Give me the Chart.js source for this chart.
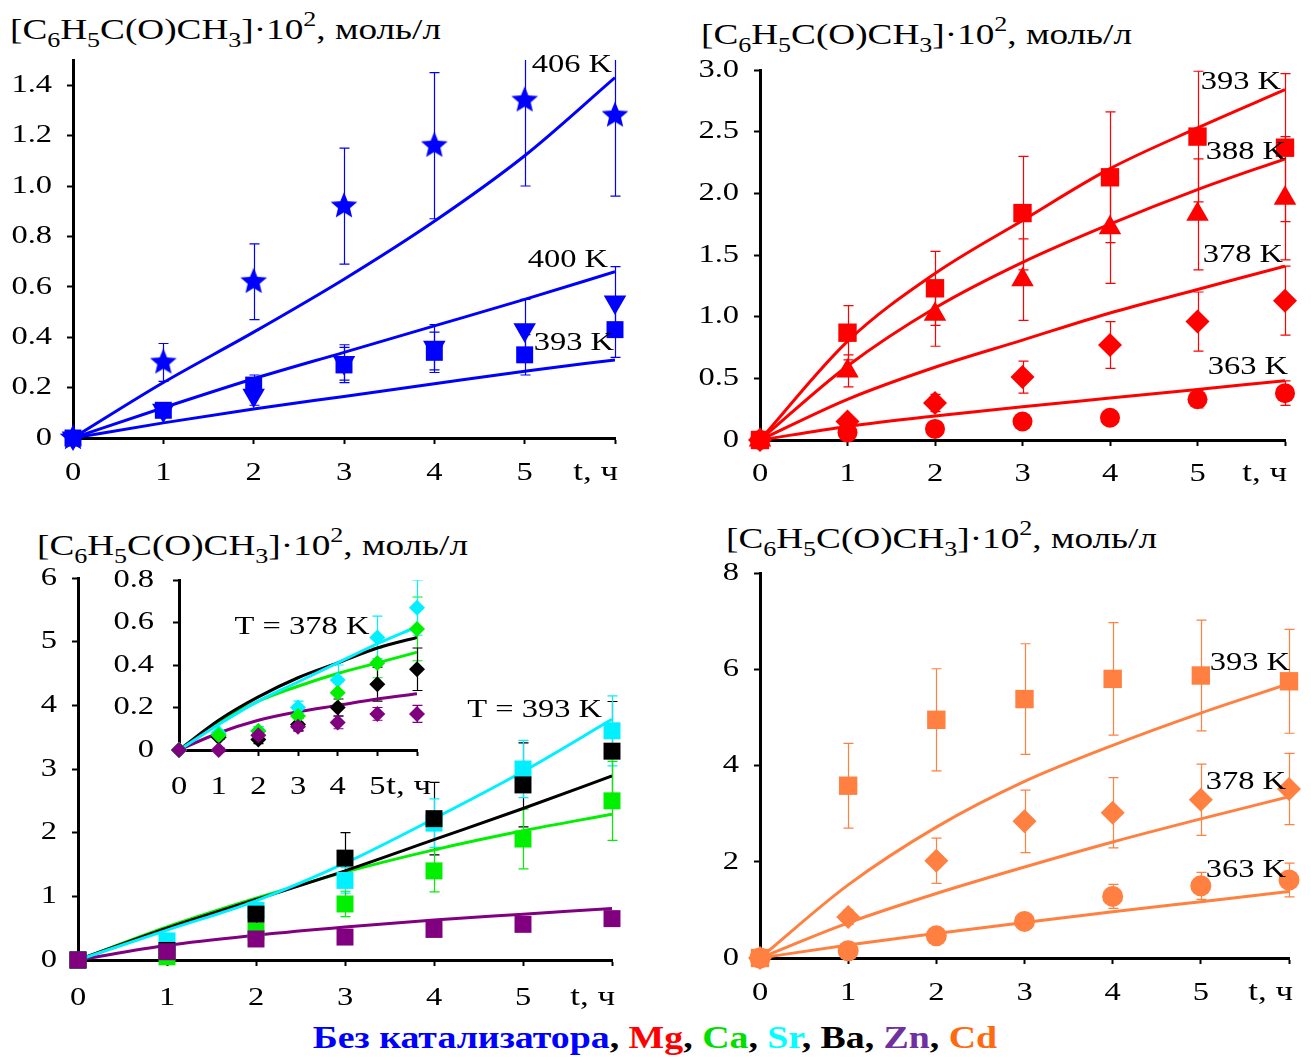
<!DOCTYPE html>
<html lang="ru">
<head>
<meta charset="UTF-8">
<title>Накопление ацетофенона</title>
<script src="https://cdn.jsdelivr.net/npm/chart.js@4.4.0/dist/chart.umd.min.js"></script>
<style>
  body { margin: 0; background: #fff; width: 1311px; height: 1061px; position: relative; overflow: hidden;
         font-family: 'Liberation Serif', 'Times New Roman', serif; }
  canvas { position: absolute; }
  .ytitle { position: absolute; font-size: 30px; white-space: nowrap; line-height: 1;
            transform: scaleX(1.24); transform-origin: 0 0; }
  .ytitle sub { font-size: 21px; vertical-align: -8px; line-height: 0; }
  .ytitle sup { font-size: 21px; vertical-align: 13px; line-height: 0; }
  #legend { position: absolute; left: 0; width: 1311px; top: 1022px; text-align: center;
            font-weight: bold; font-size: 31px; line-height: 1;
            transform: scaleX(1.22); transform-origin: 658px 0; }
</style>
</head>
<body>
<div class="ytitle" style="left:10px;top:14px">[C<sub>6</sub>H<sub>5</sub>C(O)CH<sub>3</sub>]·10<sup>2</sup>, моль/л</div>
<div class="ytitle" style="left:701px;top:19px">[C<sub>6</sub>H<sub>5</sub>C(O)CH<sub>3</sub>]·10<sup>2</sup>, моль/л</div>
<div class="ytitle" style="left:37px;top:530px">[C<sub>6</sub>H<sub>5</sub>C(O)CH<sub>3</sub>]·10<sup>2</sup>, моль/л</div>
<div class="ytitle" style="left:726px;top:523px">[C<sub>6</sub>H<sub>5</sub>C(O)CH<sub>3</sub>]·10<sup>2</sup>, моль/л</div>

<canvas id="pNone"></canvas>
<canvas id="pMg"></canvas>
<canvas id="pAlk"></canvas>
<canvas id="pInset"></canvas>
<canvas id="pCd"></canvas>

<div id="legend"></div>

<script>
// ---- data (t, h; concentration ·10^2, mol/l) ----
const hours = [0, 1, 2, 3, 4, 5, 6];

// no catalyst
const none406 = [0, 0.30, 0.62, 0.92, 1.16, 1.34, 1.28];
const none406Err = [0, 0.075, 0.15, 0.23, 0.29, 0.34, 0.32];
const none400 = [0, 0.11, 0.17, 0.30, 0.36, 0.43, 0.54];
const none400Err = [0, 0.02, 0.04, 0.07, 0.09, 0.12, 0.14];
const none393 = [0, 0.11, 0.21, 0.29, 0.34, 0.33, 0.43];
const none393Err = [0, 0.02, 0.04, 0.07, 0.08, 0.08, 0.11];
const noneFit406 = [0, 0.22, 0.42, 0.63, 0.86, 1.12, 1.43];
const noneFit400 = [0, 0.12, 0.235, 0.34, 0.445, 0.55, 0.66];
const noneFit393 = [0, 0.06, 0.115, 0.165, 0.215, 0.265, 0.31];

// Mg
const mg393 = [0, 0.87, 1.23, 1.84, 2.13, 2.46, 2.37];
const mg393Err = [0, 0.22, 0.30, 0.46, 0.53, 0.53, 0.60];
const mg388 = [0, 0.56, 1.02, 1.30, 1.72, 1.83, 1.96];
const mg388Err = [0, 0.13, 0.26, 0.33, 0.45, 0.45, 0.50];
const mg378 = [0, 0.15, 0.30, 0.51, 0.77, 0.96, 1.13];
const mg378Err = [0, 0.04, 0.07, 0.13, 0.19, 0.24, 0.28];
const mg363 = [0, 0.06, 0.09, 0.15, 0.18, 0.33, 0.38];
const mg363Err = [0, 0.01, 0.02, 0.03, 0.04, 0.07, 0.10];
const mgFit393 = [0, 0.80, 1.35, 1.78, 2.20, 2.53, 2.84];
const mgFit388 = [0, 0.60, 1.07, 1.44, 1.75, 2.03, 2.28];
const mgFit378 = [0, 0.33, 0.59, 0.81, 1.03, 1.22, 1.41];
const mgFit363 = [0, 0.11, 0.195, 0.27, 0.34, 0.41, 0.48];

// Ca, Sr, Ba, Zn at 393 K
const ca393 = [0, 0.05, 0.45, 0.88, 1.40, 1.90, 2.50];
const ca393Err = [0, 0.02, 0.08, 0.20, 0.33, 0.47, 0.62];
const sr393 = [0, 0.30, 0.78, 1.25, 2.15, 3.00, 3.60];
const sr393Err = [0, 0.06, 0.10, 0.20, 0.38, 0.45, 0.55];
const ba393 = [0, 0.15, 0.72, 1.60, 2.22, 2.75, 3.28];
const ba393Err = [0, 0.05, 0.16, 0.40, 0.57, 0.66, 0.78];
const zn393 = [0, 0.13, 0.33, 0.36, 0.48, 0.56, 0.65];
const zn393Err = [0, 0.02, 0.04, 0.05, 0.06, 0.07, 0.08];
const caFit393 = [0, 0.52, 0.97, 1.38, 1.73, 2.03, 2.29];
const baFit393 = [0, 0.50, 0.95, 1.40, 1.89, 2.38, 2.89];
const srFit393 = [0, 0.47, 0.93, 1.52, 2.22, 2.96, 3.78];
const znFit393 = [0, 0.23, 0.39, 0.52, 0.63, 0.72, 0.81];

// Ca, Sr, Ba, Zn at 378 K (inset)
const sr378 = [0, 0.08, 0.09, 0.20, 0.33, 0.53, 0.67];
const sr378Err = [0, 0.01, 0.02, 0.03, 0.07, 0.10, 0.13];
const ca378 = [0, 0.07, 0.09, 0.16, 0.27, 0.41, 0.57];
const ca378Err = [0, 0.01, 0.02, 0.03, 0.05, 0.07, 0.15];
const ba378 = [0, 0.06, 0.05, 0.12, 0.20, 0.31, 0.38];
const ba378Err = [0, 0.01, 0.02, 0.03, 0.04, 0.08, 0.10];
const zn378 = [0, 0.00, 0.07, 0.11, 0.13, 0.17, 0.17];
const zn378Err = [0, 0.01, 0.01, 0.02, 0.03, 0.03, 0.04];
const srFit378 = [0, 0.12, 0.23, 0.32, 0.41, 0.50, 0.58];
const baFit378 = [0, 0.14, 0.25, 0.34, 0.41, 0.48, 0.53];
const caFit378 = [0, 0.13, 0.23, 0.30, 0.36, 0.41, 0.46];
const znFit378 = [0, 0.08, 0.14, 0.18, 0.21, 0.24, 0.265];

// Cd
const cd393 = [0, 3.58, 4.95, 5.38, 5.80, 5.87, 5.75];
const cd393Err = [0, 0.88, 1.06, 1.15, 1.17, 1.15, 1.08];
const cd378 = [0, 0.85, 2.02, 2.84, 3.02, 3.29, 3.51];
const cd378Err = [0, 0.15, 0.47, 0.65, 0.73, 0.74, 0.74];
const cd363 = [0, 0.15, 0.46, 0.76, 1.28, 1.50, 1.62];
const cd363Err = [0, 0.03, 0.06, 0.10, 0.25, 0.28, 0.35];
const cdFit393 = [0, 1.52, 2.72, 3.67, 4.42, 5.09, 5.70];
const cdFit378 = [0, 0.73, 1.34, 1.89, 2.41, 2.89, 3.35];
const cdFit363 = [0, 0.27, 0.51, 0.74, 0.96, 1.17, 1.38];

// axis ticks
const ticksNone = [0, 0.2, 0.4, 0.6, 0.8, 1.0, 1.2, 1.4];
const ticksMg = [0, 0.5, 1.0, 1.5, 2.0, 2.5, 3.0];
const ticksAlk = [0, 1, 2, 3, 4, 5, 6];
const ticksInset = [0, 0.2, 0.4, 0.6, 0.8];
const ticksCd = [0, 2, 4, 6, 8];

const catalysts = ['Без катализатора', 'Mg', 'Ca', 'Sr', 'Ba', 'Zn', 'Cd'];

// ---- colours ----
const BLUE = '#0000ff', RED = '#ff0000', GREEN = '#00f000', CYAN = '#00f0ff',
      BLACK = '#000000', PURPLE = '#800080', ORANGE = '#ff8040';
const legendColors = [BLUE, RED, '#00e000', '#00ffff', BLACK, '#7030a0', '#ff6a10'];

const FONT = 'Liberation Serif';
const SX = 1.25;          // wide Times-like lettering

// filled five-point star used as a marker
function starImage(r, color) {
  const c = document.createElement('canvas');
  c.width = c.height = 2 * r + 2;
  const g = c.getContext('2d');
  g.fillStyle = color;
  g.beginPath();
  for (let i = 0; i < 10; i++) {
    const rad = i % 2 ? r * 0.45 : r;
    const a = -Math.PI / 2 + i * Math.PI / 5;
    g.lineTo(r + 1 + rad * Math.cos(a), r + 1 + rad * Math.sin(a));
  }
  g.closePath();
  g.fill();
  return c;
}

const pts = ys => hours.map((t, i) => ({ x: t, y: ys[i] }));

function markers(ys, errs, color, style, radius, rotation) {
  return {
    data: pts(ys), errors: errs, showLine: false, clip: false,
    pointStyle: style, pointRadius: radius, pointRotation: rotation || 0,
    pointBackgroundColor: color, pointBorderColor: color, pointBorderWidth: 0,
    borderColor: color, backgroundColor: color
  };
}

function curve(ys, color) {
  return {
    data: pts(ys), borderColor: color, borderWidth: 3, pointRadius: 0,
    cubicInterpolationMode: 'monotone', fill: false
  };
}

// vertical error bars with caps, drawn under the markers
const errorBars = {
  id: 'errorBars',
  beforeDatasetsDraw(chart) {
    const { ctx, chartArea: a, scales: { x, y } } = chart;
    ctx.save();
    ctx.beginPath();
    ctx.rect(a.left - 20, a.top, a.right - a.left + 40, a.bottom - a.top + 20);
    ctx.clip();
    chart.data.datasets.forEach(ds => {
      if (!ds.errors) return;
      ctx.strokeStyle = ds.borderColor;
      ctx.lineWidth = 1.2;
      ds.data.forEach((p, j) => {
        const e = ds.errors[j];
        if (!e) return;
        const px = Math.round(x.getPixelForValue(p.x)) + 0.5;
        const top = y.getPixelForValue(p.y + e), bot = y.getPixelForValue(p.y - e);
        ctx.beginPath();
        ctx.moveTo(px, top); ctx.lineTo(px, bot);
        ctx.moveTo(px - 5, top); ctx.lineTo(px + 5, top);
        ctx.moveTo(px - 5, bot); ctx.lineTo(px + 5, bot);
        ctx.stroke();
      });
    });
    ctx.restore();
  }
};

function wideText(ctx, text, x, y, align) {
  ctx.save();
  ctx.translate(x, y);
  ctx.scale(SX, 1);
  ctx.textAlign = align;
  ctx.fillText(text, 0, 0);
  ctx.restore();
}

// tick labels, temperature captions and the time axis name
const panelText = {
  id: 'panelText',
  afterDraw(chart, args, opts) {
    const { ctx, chartArea: a, scales: { x, y } } = chart;
    ctx.save();
    ctx.fillStyle = '#000';
    ctx.font = '26px "' + FONT + '"';
    ctx.textBaseline = 'middle';
    x.ticks.forEach(t => {
      if (t.value !== 6) wideText(ctx, String(t.value), x.getPixelForValue(t.value), a.bottom + opts.xdy, 'center');
    });
    y.ticks.forEach(t => {
      wideText(ctx, opts.yFmt(t.value), a.left - opts.ydx, y.getPixelForValue(t.value), 'right');
    });
    (opts.items || []).forEach(it => {
      wideText(ctx, it.text, x.getPixelForValue(it.x) + (it.dx || 0), y.getPixelForValue(it.y), it.align || 'right');
    });
    ctx.font = '28px "' + FONT + '"';
    wideText(ctx, 't, ч', a.right + opts.tdx, a.bottom + opts.xdy, 'right');
    ctx.restore();
  }
};

const YW = 70, XH = 55, PT = 15, PR = 45;

function panel(id, box, yMax, yTicks, notes, datasets) {
  const cv = document.getElementById(id);
  cv.width = box.r - box.l + YW + PR;
  cv.height = box.b - box.t + PT + XH;
  cv.style.left = (box.l - YW) + 'px';
  cv.style.top = (box.t - PT) + 'px';
  const axisCommon = {
    type: 'linear',
    grid: { drawOnChartArea: false, tickLength: 6, tickWidth: 2, tickColor: '#000' },
    border: { color: '#000', width: 3 },
    ticks: { display: false, autoSkip: false }
  };
  const noPad = s => { s.paddingTop = s.paddingBottom = s.paddingLeft = s.paddingRight = 0; };
  return new Chart(cv, {
    type: 'line',
    data: { datasets },
    options: {
      responsive: false, animation: false, events: [],
      layout: { padding: { top: PT, right: PR, left: 0, bottom: 0 } },
      plugins: { legend: { display: false }, tooltip: { enabled: false }, panelText: notes },
      scales: {
        x: Object.assign({}, axisCommon, {
          min: 0, max: 6,
          afterBuildTicks: s => { s.ticks = hours.map(v => ({ value: v })); },
          afterFit: s => { s.height = XH; noPad(s); }
        }),
        y: Object.assign({}, axisCommon, {
          min: 0, max: yMax,
          afterBuildTicks: s => { s.ticks = yTicks.map(v => ({ value: v })); },
          afterFit: s => { s.width = YW; noPad(s); }
        })
      }
    },
    plugins: [errorBars, panelText]
  });
}

const oneDec = v => (v === 0 ? '0' : v.toFixed(1));
const whole = v => String(v);

// no catalyst
panel('pNone', { l: 73, t: 60, r: 615, b: 438 }, 1.5, ticksNone, {
  yFmt: oneDec, xdy: 35, ydx: 21, tdx: 3, items: [
    { text: '406 K', x: 6, y: 1.48, dx: -3 },
    { text: '400 K', x: 6, y: 0.705, dx: -7 },
    { text: '393 K', x: 6, y: 0.375, dx: -1 }
  ] }, [
  markers(none406, none406Err, BLUE, starImage(14, BLUE), 14),
  markers(none393, none393Err, BLUE, 'rect', 12),
  markers(none400, none400Err, BLUE, 'triangle', 13, 180),
  curve(noneFit406, BLUE), curve(noneFit400, BLUE), curve(noneFit393, BLUE)
]);

// Mg
panel('pMg', { l: 760, t: 70, r: 1285, b: 440 }, 3.0, ticksMg, {
  yFmt: oneDec, xdy: 34, ydx: 21, tdx: 2, items: [
    { text: '393 K', x: 6, y: 2.90, dx: -4 },
    { text: '388 K', x: 6, y: 2.335, dx: 1 },
    { text: '378 K', x: 6, y: 1.50, dx: -2 },
    { text: '363 K', x: 6, y: 0.59, dx: 3 }
  ] }, [
  markers(mg393, mg393Err, RED, 'rect', 13),
  markers(mg388, mg388Err, RED, 'triangle', 13),
  markers(mg378, mg378Err, RED, 'rectRot', 12),
  markers(mg363, mg363Err, RED, 'circle', 10),
  curve(mgFit393, RED), curve(mgFit388, RED), curve(mgFit378, RED), curve(mgFit363, RED)
]);

// Ca, Sr, Ba, Zn at 393 K
panel('pAlk', { l: 78, t: 578, r: 612, b: 960 }, 6, ticksAlk, {
  yFmt: whole, xdy: 38, ydx: 21, tdx: 3, items: [
    { text: 'T = 393 K', x: 6, y: 3.93, dx: -10 }
  ] }, [
  markers(zn393, zn393Err, PURPLE, 'rect', 12),
  markers(ba393, ba393Err, BLACK, 'rect', 12),
  markers(sr393, sr393Err, CYAN, 'rect', 12),
  markers(ca393, ca393Err, GREEN, 'rect', 12),
  curve(srFit393, CYAN), curve(baFit393, BLACK), curve(caFit393, GREEN), curve(znFit393, PURPLE)
]);

// inset, 378 K
panel('pInset', { l: 179, t: 580, r: 417, b: 750 }, 0.8, ticksInset, {
  yFmt: oneDec, xdy: 37, ydx: 25, tdx: 14, items: [
    { text: 'T = 378 K', x: 3.1, y: 0.58, align: 'center' }
  ] }, [
  markers(zn378, zn378Err, PURPLE, 'rectRot', 8),
  markers(ca378, ca378Err, GREEN, 'rectRot', 8),
  markers(sr378, sr378Err, CYAN, 'rectRot', 8),
  markers(ba378, ba378Err, BLACK, 'rectRot', 8),
  curve(srFit378, CYAN), curve(baFit378, BLACK), curve(caFit378, GREEN), curve(znFit378, PURPLE)
]);

// Cd
panel('pCd', { l: 760, t: 573, r: 1289, b: 958 }, 8, ticksCd, {
  yFmt: whole, xdy: 35, ydx: 21, tdx: 4, items: [
    { text: '393 K', x: 6, y: 6.13, dx: 1 },
    { text: '378 K', x: 6, y: 3.66, dx: -3 },
    { text: '363 K', x: 6, y: 1.83, dx: -3 }
  ] }, [
  markers(cd393, cd393Err, ORANGE, 'rect', 13),
  markers(cd378, cd378Err, ORANGE, 'rectRot', 12),
  markers(cd363, cd363Err, ORANGE, 'circle', 10.5),
  curve(cdFit393, ORANGE), curve(cdFit378, ORANGE), curve(cdFit363, ORANGE)
]);

// catalyst legend line
const legend = document.getElementById('legend');
catalysts.forEach((name, i) => {
  const s = document.createElement('span');
  s.style.color = legendColors[i];
  s.textContent = name;
  legend.appendChild(s);
  if (i < catalysts.length - 1) legend.appendChild(document.createTextNode(', '));
});
</script>
</body>
</html>
